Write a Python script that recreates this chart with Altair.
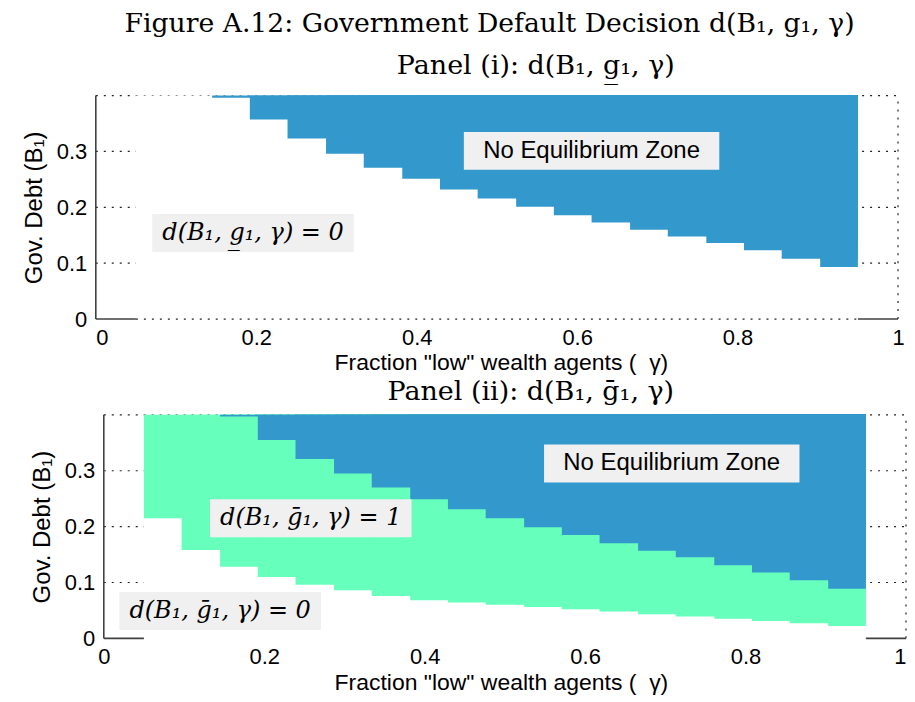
import altair as alt
import pandas as pd

# ---- data ----
gamma_edges = [0.05, 0.097, 0.145, 0.192, 0.239, 0.287, 0.334, 0.382, 0.429, 0.476,
               0.524, 0.571, 0.618, 0.666, 0.713, 0.761, 0.808, 0.855, 0.903, 0.95]
b_top = 0.4

p1_blue_bottom = [None, None, 0.396, 0.357, 0.323, 0.296, 0.271, 0.251, 0.232, 0.216,
                  0.201, 0.186, 0.173, 0.160, 0.148, 0.136, 0.123, 0.108, 0.093]
p2_green_bottom = [0.215, 0.158, 0.128, 0.110, 0.096, 0.086, 0.076, 0.068, 0.064, 0.060,
                   0.056, 0.052, 0.048, 0.043, 0.039, 0.035, 0.031, 0.027, 0.022]
p2_blue_bottom = [None, None, 0.397, 0.355, 0.321, 0.295, 0.270, 0.249, 0.231, 0.215,
                  0.199, 0.185, 0.170, 0.157, 0.145, 0.131, 0.118, 0.104, 0.089]

x_ticks = [0, 0.2, 0.4, 0.6, 0.8, 1]
y_ticks = [0, 0.1, 0.2, 0.3]
y_grid = [0.1, 0.2, 0.3, 0.4]

title_main = "Figure A.12: Government Default Decision d(B\u2081, g\u2081, \u03b3)"
title_p1 = "Panel (i): d(B\u2081, g\u0332\u2081, \u03b3)"
title_p2 = "Panel (ii): d(B\u2081, \u1e21\u2081, \u03b3)"
x_title = "Fraction \"low\" wealth agents (\u00a0\u00a0\u03b3)"
y_title = "Gov. Debt (B\u2081)"

p1_labels = ["No Equilibrium Zone", "d(B\u2081, g\u0332\u2081, \u03b3) = 0"]
p1_label_g = [0.618, 0.196]
p1_label_b = [0.301, 0.154]
p2_labels = ["No Equilibrium Zone", "d(B\u2081, \u1e21\u2081, \u03b3) = 1", "d(B\u2081, \u1e21\u2081, \u03b3) = 0"]
p2_label_g = [0.708, 0.258, 0.145]
p2_label_b = [0.313, 0.215, 0.049]
label_kind = ["zone", "math", "math"]

BLUE = "#3399cc"
GREEN = "#66ffbb"
BOX = "#f0f0f0"
AXC = "#404040"


def cells(bottoms, color):
    # each column drawn from its left edge to the right end of the grid, so
    # the union forms the staircase without anti-aliasing seams
    rows = []
    for k, b in enumerate(bottoms):
        if b is None:
            continue
        rows.append({"g0": gamma_edges[k], "g1": gamma_edges[-1], "b0": b, "b1": b_top, "c": color})
    return pd.DataFrame(rows)


def panel(xdom, yaxis_offset, layers_cells, labels, lg, lb, kinds, title, title_dx, title_off, bottom_dotted):
    xs = alt.Scale(domain=xdom, nice=False, zero=False)
    ys = alt.Scale(domain=[0, b_top], nice=False, zero=False)
    xaxis = alt.Axis(values=x_ticks, format="~g", grid=False, domain=False, ticks=False,
                     labelFont="Liberation Sans", labelFontSize=22, labelColor="black",
                     labelPadding=8, title=x_title, titleFont="Liberation Sans",
                     titleFontSize=23, titleFontWeight="normal", titleColor="black", titlePadding=4)
    yaxis = alt.Axis(values=y_ticks, format="~g", grid=False, domain=False, ticks=False,
                     labelFont="Liberation Sans", labelFontSize=22, labelColor="black",
                     labelPadding=9, title=y_title, titleFont="Liberation Sans",
                     titleFontSize=24, titleFontWeight="normal", titleColor="black",
                     titlePadding=10, offset=yaxis_offset)

    def X(f):
        return alt.X(f, type="quantitative", scale=xs, axis=xaxis)

    def Y(f):
        return alt.Y(f, type="quantitative", scale=ys, axis=yaxis)

    # dotted grid lines
    hgrid = pd.DataFrame({"y": y_grid, "x0": [0] * len(y_grid), "x1": [1] * len(y_grid)})
    l_hgrid = alt.Chart(hgrid).mark_rule(strokeDash=[2, 6], color="#222", strokeWidth=1.2).encode(
        x=X("x0"), x2="x1", y=Y("y"))
    vgrid = pd.DataFrame({"x": [1], "y0": [0], "y1": [b_top]})
    l_vgrid = alt.Chart(vgrid).mark_rule(strokeDash=[2, 6], color="#222", strokeWidth=1.2).encode(
        x=X("x"), y=Y("y0"), y2="y1")

    # white region of the grid
    wdf = pd.DataFrame({"g0": [gamma_edges[0]], "g1": [gamma_edges[-1]], "b0": [0], "b1": [b_top]})
    l_white = alt.Chart(wdf).mark_rect(color="white").encode(x=X("g0"), x2="g1", y=Y("b0"), y2="b1")

    layers = [l_hgrid, l_vgrid, l_white]
    for df in layers_cells:
        layers.append(alt.Chart(df).mark_rect(strokeWidth=0).encode(
            x=X("g0"), x2="g1", y=Y("b0"), y2="b1",
            color=alt.Color("c:N", scale=None, legend=None)))

    if bottom_dotted:
        bd = pd.DataFrame({"x0": [gamma_edges[0]], "x1": [gamma_edges[-1]], "y": [0]})
        layers.append(alt.Chart(bd).mark_rule(strokeDash=[2, 6], color="#222", strokeWidth=1.2).encode(
            x=X("x0"), x2="x1", y=Y("y")))

    # solid axis lines
    seg = pd.DataFrame({"x0": [0, gamma_edges[-1]], "x1": [gamma_edges[0], 1], "y": [0, 0]})
    layers.append(alt.Chart(seg).mark_rule(color=AXC, strokeWidth=1.6).encode(
        x=X("x0"), x2="x1", y=Y("y")))
    lft = pd.DataFrame({"x": [0], "y0": [0], "y1": [b_top]})
    layers.append(alt.Chart(lft).mark_rule(color=AXC, strokeWidth=1.6).encode(
        x=X("x"), y=Y("y0"), y2="y1"))

    # annotations
    ann = pd.DataFrame({"t": labels, "g": lg, "b": lb, "k": kinds})
    zone = ann[ann["k"] == "zone"]
    math = ann[ann["k"] == "math"]
    layers.append(alt.Chart(zone).mark_rect(color=BOX, width=256, height=38).encode(x=X("g"), y=Y("b")))
    layers.append(alt.Chart(zone).mark_text(font="Liberation Sans", fontSize=24, color="black",
                                            baseline="middle", align="center").encode(
        x=X("g"), y=Y("b"), text="t:N"))
    layers.append(alt.Chart(math).mark_rect(color=BOX, width=202, height=38).encode(x=X("g"), y=Y("b")))
    layers.append(alt.Chart(math).mark_text(font="DejaVu Serif", fontSize=24, fontStyle="italic",
                                            color="black", baseline="middle", align="center").encode(
        x=X("g"), y=Y("b"), text="t:N"))

    return alt.layer(*layers).properties(
        width=812, height=224,
        title=alt.TitleParams(title, font="DejaVu Serif", fontSize=27, fontWeight="normal",
                              color="black", anchor="middle", dx=title_dx, offset=title_off,
                              baseline="alphabetic"))


shift = 8 / 804.0
kinds1 = ["zone", "math"]
p1 = panel([0, 1 + shift], 0, [cells(p1_blue_bottom, BLUE)], p1_labels, p1_label_g, p1_label_b,
           kinds1, title_p1, 35, -6, True)
p2 = panel([-shift, 1], -8, [cells(p2_green_bottom, GREEN), cells(p2_blue_bottom, BLUE)],
           p2_labels, p2_label_g, p2_label_b, label_kind, title_p2, 30, -13, False)

chart = alt.vconcat(p1, p2, spacing=96, bounds="flush").properties(
    title=alt.TitleParams(title_main, font="DejaVu Serif", fontSize=26.7, fontWeight="normal",
                          color="black", anchor="middle", offset=14, dx=25),
    padding={"left": 14, "top": 2, "right": 0, "bottom": 0}
).configure_view(stroke=None)

chart.save("out.html", embed_options={"renderer": "svg", "actions": False})
